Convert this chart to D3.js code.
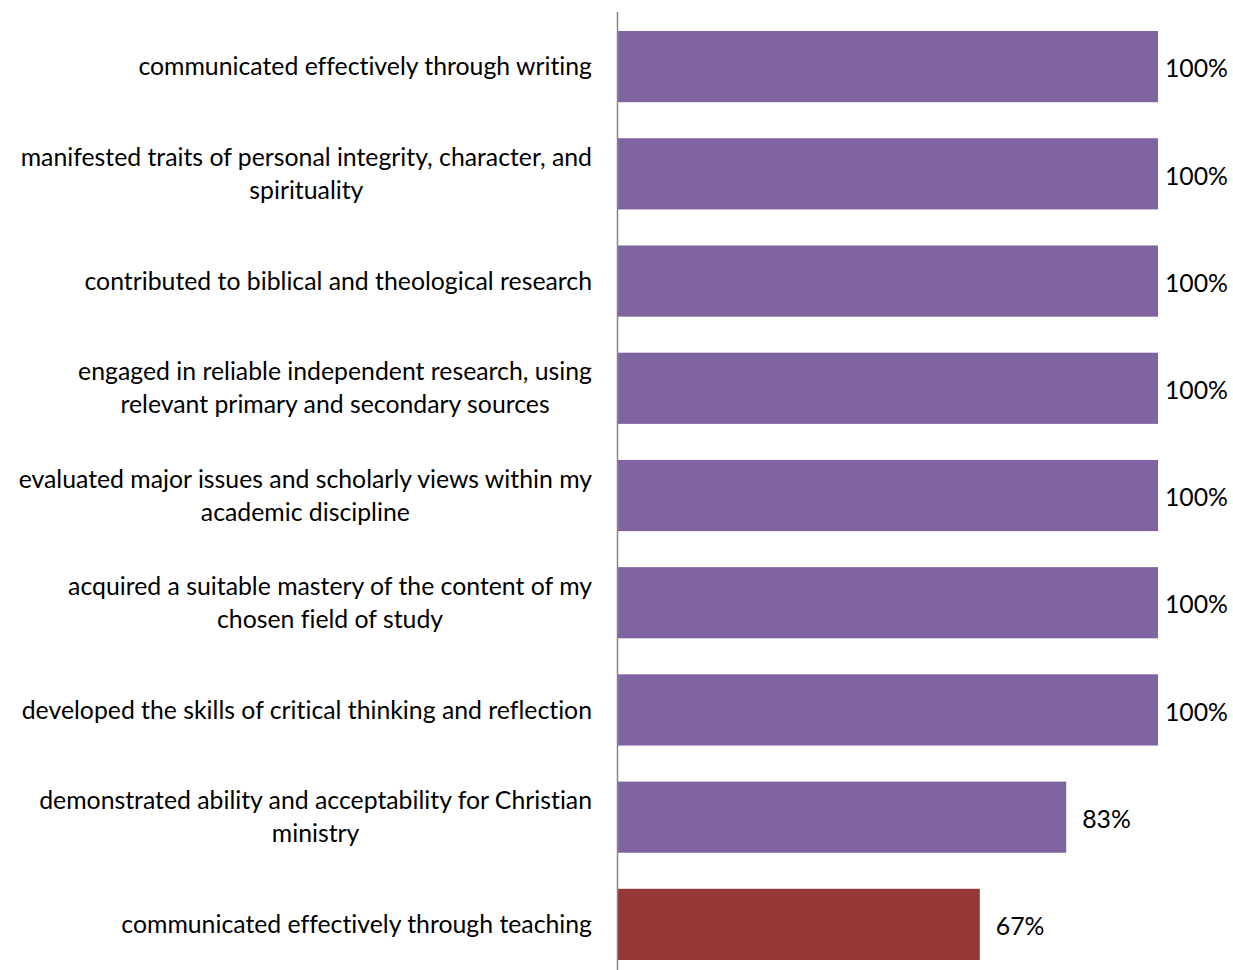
<!DOCTYPE html>
<html>
<head>
<meta charset="utf-8">
<script src="https://cdn.jsdelivr.net/npm/d3@7"></script>
<style>
  html, body { margin: 0; padding: 0; background: #fff; }
  svg { display: block; }
  text { font-family: Lato, "Open Sans", sans-serif; fill: #000; font-variant-ligatures: none; }
</style>
</head>
<body>
<svg id="chart" width="1233" height="970"></svg>
<script>
// Survey outcomes: share of respondents agreeing with each statement
const categories = [
  ["communicated effectively through writing"],
  ["manifested traits of personal integrity, character, and", "spirituality"],
  ["contributed to biblical and theological research"],
  ["engaged in reliable independent research, using", "relevant primary and secondary sources"],
  ["evaluated major issues and scholarly views within my", "academic discipline"],
  ["acquired a suitable mastery of the content of my", "chosen field of study"],
  ["developed the skills of critical thinking and reflection"],
  ["demonstrated ability and acceptability for Christian", "ministry"],
  ["communicated effectively through teaching"]
];
const values = [100, 100, 100, 100, 100, 100, 100, 83, 67];
const barColors = ["#8064A2", "#8064A2", "#8064A2", "#8064A2", "#8064A2", "#8064A2", "#8064A2", "#8064A2", "#953735"];

const svg = d3.select("#chart");
const plotLeft = 618, plotRight = 1158, plotTop = 13, plotBottom = 978;

const x = d3.scaleLinear().domain([0, 100]).range([plotLeft, plotRight]);
const y = d3.scaleBand().domain(d3.range(categories.length)).range([plotTop, plotBottom]).paddingInner(0.336).paddingOuter(0.168);

const fontSize = 24.8;
const lineH = 33;

// bars
svg.append("g").selectAll("rect").data(values).join("rect")
  .attr("x", x(0))
  .attr("y", (d, i) => y(i))
  .attr("width", d => x(d) - x(0))
  .attr("height", y.bandwidth())
  .attr("fill", (d, i) => barColors[i]);

// value labels, kept inside the right edge of the chart
svg.append("g").selectAll("text").data(values).join("text")
  .attr("y", (d, i) => y(i) + y.bandwidth() / 2 + 2)
  .attr("dy", "0.35em")
  .attr("font-size", fontSize)
  .text(d => d + "%")
  .attr("x", function(d) {
    const w = this.getComputedTextLength();
    return Math.min(x(d) + 16, 1228 - w);
  });

// category labels: each block right-aligned to the axis, lines centred within it
const lab = svg.append("g").selectAll("text").data(categories).join("text")
  .attr("text-anchor", "middle")
  .attr("font-size", fontSize)
  .attr("y", (d, i) => y(i) + y.bandwidth() / 2);

lab.each(function(lines) {
  const t = d3.select(this);
  const n = lines.length;
  const widths = lines.map(s => {
    const tt = t.append("tspan").text(s);
    const w = tt.node().getComputedTextLength();
    tt.remove();
    return w;
  });
  const cx = 592 - d3.max(widths) / 2;
  lines.forEach((s, k) => {
    t.append("tspan")
      .attr("x", cx)
      .attr("dy", k === 0 ? ((-(n - 1) / 2) * lineH + 0.35 * fontSize) : lineH)
      .text(s);
  });
});

// category axis line
svg.append("line")
  .attr("x1", plotLeft - 0.5).attr("x2", plotLeft - 0.5)
  .attr("y1", 12).attr("y2", 970)
  .attr("stroke", "#868686").attr("stroke-width", 1.5);
</script>
</body>
</html>
